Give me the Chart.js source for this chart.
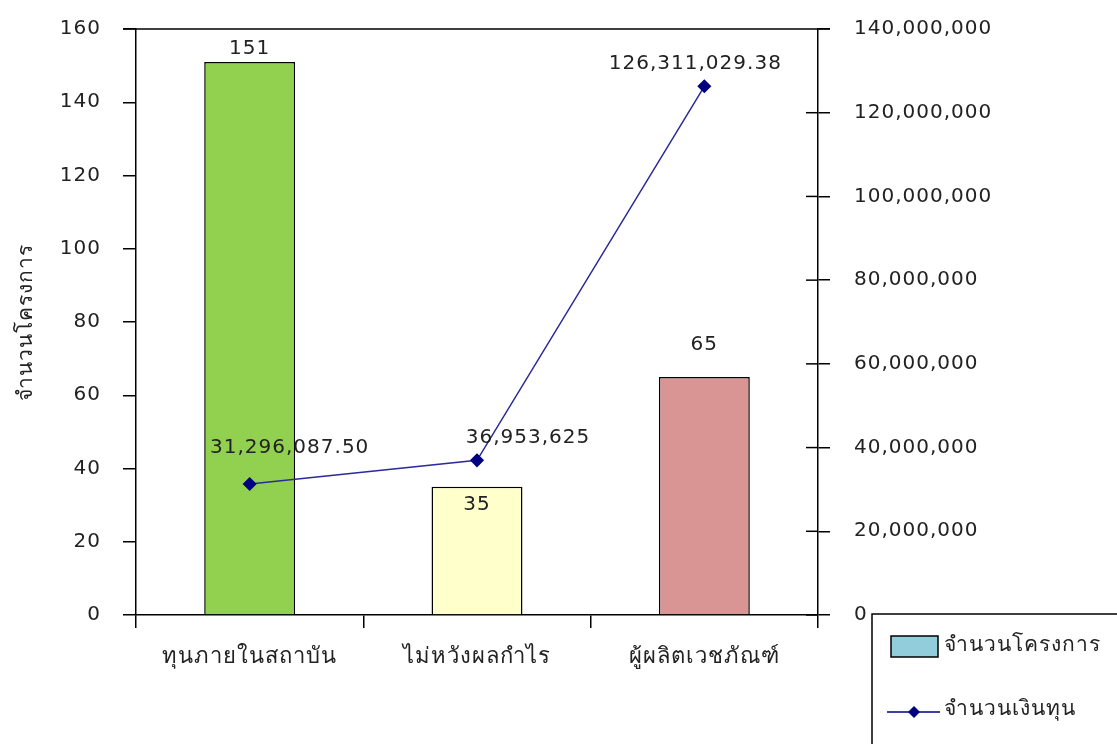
<!DOCTYPE html>
<html>
<head>
<meta charset="utf-8">
<script src="https://cdn.jsdelivr.net/npm/chart.js@4.4.1/dist/chart.umd.min.js"></script>
<style>
  html, body { margin: 0; padding: 0; background: #fff; }
  #wrap { width: 1117px; height: 744px; overflow: hidden; }
</style>
</head>
<body>
<div id="wrap"><canvas id="myChart" width="1117" height="744"></canvas></div>
<script>
// ข้อมูล
const categories = ["ทุนภายในสถาบัน", "ไม่หวังผลกำไร", "ผู้ผลิตเวชภัณฑ์"];
const projectCounts = [151, 35, 65];
const fundAmounts = [31296087.50, 36953625, 126311029.38];
const fundLabels = ["31,296,087.50", "36,953,625", "126,311,029.38"];
const leftTicks = [0, 20, 40, 60, 80, 100, 120, 140, 160];
const rightTicks = [0, 20000000, 40000000, 60000000, 80000000, 100000000, 120000000, 140000000];

const barColors = ["#92D050", "#FFFFCC", "#D99594"];
const FONT = "'DejaVu Sans', 'Noto Sans', sans-serif";

// ตำแหน่งป้ายข้อมูล (เลื่อนจากจุด)
const barLabelDy = [-13, 18, -32];
const lineLabelOffset = [[40, -36], [51, -23], [-9, -23]];

const ctx = document.getElementById("myChart").getContext("2d");

// วาดเส้นกรอบบน ขีดด้านในแกนขวา ป้ายข้อมูล และคำอธิบาย
const extras = {
    id: "extras",
    beforeDraw(chart) {
        chart.ctx.letterSpacing = "1px";
    },
    afterDatasetsDraw(chart) {
        const c = chart.ctx;
        const a = chart.chartArea;
        c.save();
        c.strokeStyle = "#000";
        c.lineWidth = 1.5;
        // เส้นบน
        c.beginPath();
        c.moveTo(a.left - 13, a.top);
        c.lineTo(a.right + 12, a.top);
        c.stroke();
        // ขีดด้านในแกนขวา
        const y2 = chart.scales.y2;
        rightTicks.slice(0, -1).forEach(v => {
            const y = y2.getPixelForValue(v);
            c.beginPath();
            c.moveTo(a.right - 12, y);
            c.lineTo(a.right, y);
            c.stroke();
        });

        c.fillStyle = "#222";
        c.font = "20px " + FONT;
        c.textAlign = "center";
        c.textBaseline = "middle";
        const barMeta = chart.getDatasetMeta(1);
        barMeta.data.forEach((el, i) => {
            c.fillText(String(projectCounts[i]), el.x, el.y + barLabelDy[i]);
        });
        const lineMeta = chart.getDatasetMeta(0);
        lineMeta.data.forEach((el, i) => {
            c.fillText(fundLabels[i], el.x + lineLabelOffset[i][0], el.y + lineLabelOffset[i][1]);
        });

        // คำอธิบาย
        c.lineWidth = 1.5;
        c.strokeStyle = "#000";
        c.strokeRect(872, 614, 300, 200);
        c.fillStyle = "#92CDDC";
        c.fillRect(891, 636, 47, 21);
        c.strokeRect(891, 636, 47, 21);
        c.strokeStyle = "#000080";
        c.beginPath();
        c.moveTo(887, 712);
        c.lineTo(940, 712);
        c.stroke();
        c.fillStyle = "#000080";
        c.beginPath();
        c.moveTo(914, 706);
        c.lineTo(920, 712);
        c.lineTo(914, 718);
        c.lineTo(908, 712);
        c.closePath();
        c.fill();
        c.fillStyle = "#222";
        c.textAlign = "left";
        c.font = "21px " + FONT;
        c.fillText("จำนวนโครงการ", 944, 646);
        c.fillText("จำนวนเงินทุน", 944, 710);
        c.restore();
    }
};

const myChart = new Chart(ctx, {
    type: "bar",
    data: {
        labels: categories,
        datasets: [
            {
                type: "line",
                label: "จำนวนเงินทุน",
                data: fundAmounts,
                yAxisID: "y2",
                borderColor: "#2B2B9A",
                borderWidth: 1.5,
                pointStyle: "rectRot",
                pointRadius: 6,
                pointBackgroundColor: "#000080",
                pointBorderColor: "#000080",
                fill: false,
                tension: 0
            },
            {
                label: "จำนวนโครงการ",
                data: projectCounts,
                yAxisID: "y",
                backgroundColor: barColors,
                borderColor: "#000",
                borderWidth: 1.5,
                categoryPercentage: 1,
                barPercentage: 0.4
            }
        ]
    },
    options: {
        responsive: false,
        animation: false,
        devicePixelRatio: 1,
        layout: { padding: { top: 29, left: 0, right: 0, bottom: 0 } },
        plugins: {
            legend: { display: false },
            tooltip: { enabled: false }
        },
        scales: {
            x: {
                grid: { drawOnChartArea: false, color: "#000", lineWidth: 1.5, tickLength: 13, offset: true },
                border: { color: "#000", width: 1.5 },
                ticks: { color: "#222", font: { family: FONT, size: 22 }, padding: 16, maxRotation: 0 },
                afterFit(s) { s.height = 129; s.paddingLeft = 0; s.paddingRight = 0; }
            },
            y: {
                position: "left",
                min: 0,
                max: 160,
                afterBuildTicks(s) { s.ticks = leftTicks.map(v => ({ value: v })); },
                grid: { drawOnChartArea: false, color: "#000", lineWidth: 1.5, tickLength: 13 },
                border: { color: "#000", width: 1.5 },
                ticks: { color: "#222", font: { family: FONT, size: 20 }, padding: 22 },
                title: { display: true, text: "จำนวนโครงการ", color: "#222", font: { family: FONT, size: 21 }, padding: { top: 14, bottom: 0 } },
                afterFit(s) { s.width = 136; s.paddingTop = 0; s.paddingBottom = 0; }
            },
            y2: {
                position: "right",
                min: 0,
                max: 140000000,
                afterBuildTicks(s) { s.ticks = rightTicks.map(v => ({ value: v })); },
                grid: { drawOnChartArea: false, color: "#000", lineWidth: 1.5, tickLength: 12 },
                border: { color: "#000", width: 1.5 },
                ticks: {
                    color: "#222",
                    font: { family: FONT, size: 20 },
                    padding: 24,
                    callback: v => v.toLocaleString("en-US")
                },
                afterFit(s) { s.width = 299; s.paddingTop = 0; s.paddingBottom = 0; }
            }
        }
    },
    plugins: [extras]
});
</script>
</body>
</html>
